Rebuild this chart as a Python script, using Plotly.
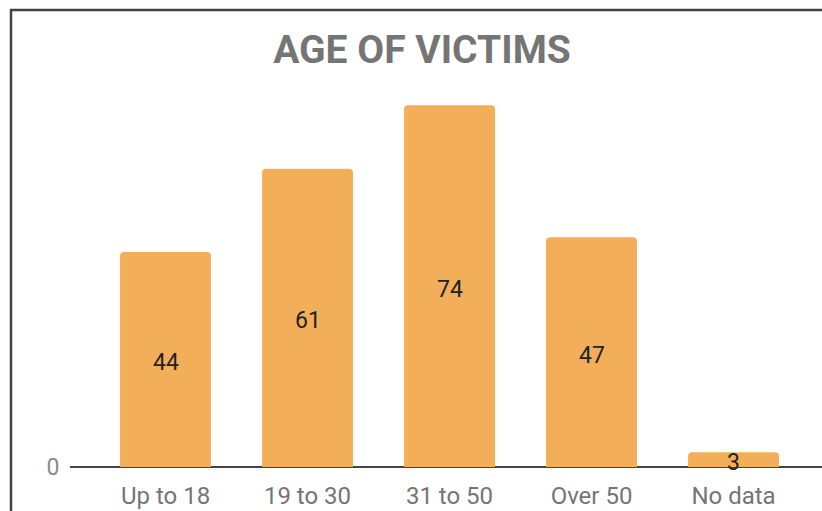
import plotly.graph_objects as go

categories = ["Up to 18", "19 to 30", "31 to 50", "Over 50", "No data"]
values = [44, 61, 74, 47, 3]
title_text = "AGE OF VICTIMS"
y_tick_vals = [0]
y_tick_text = ["0"]

W, H = 822, 511
L, R, T, B = 70, 0, 76, 44

fig = go.Figure()
fig.add_trace(
    go.Bar(
        x=categories,
        y=values,
        width=0.64,
        marker=dict(color="#F2AE59", line=dict(width=0), cornerradius=4),
        hoverinfo="skip",
    )
)

# value labels centred in each bar (not shrunk for the short bar)
annotations = [
    dict(
        x=c, y=v / 2, xref="x", yref="y",
        text=str(v), showarrow=False,
        xanchor="center", yanchor="middle", yshift=-3,
        font=dict(family="Roboto", size=23, color="#222222"),
    )
    for c, v in zip(categories, values)
]

fig.update_layout(
    width=W,
    height=H,
    margin=dict(l=L, r=R, t=T, b=B, pad=0),
    paper_bgcolor="white",
    plot_bgcolor="white",
    showlegend=False,
    font=dict(family="Roboto"),
    annotations=annotations,
    title=dict(
        text="<b>" + title_text + "</b>",
        x=422 / W,
        xref="container",
        xanchor="center",
        y=1 - 49 / H,
        yref="container",
        yanchor="middle",
        font=dict(family="Roboto", size=39, color="#757575"),
    ),
    xaxis=dict(
        type="category",
        range=[-0.6725, 4.623],
        showgrid=False,
        zeroline=False,
        showline=False,
        ticks="outside",
        ticklen=7,
        tickcolor="rgba(0,0,0,0)",
        tickfont=dict(family="Roboto", size=24, color="#757575"),
        fixedrange=True,
    ),
    yaxis=dict(
        range=[0, 80],
        showgrid=False,
        zeroline=True,
        zerolinecolor="#444444",
        zerolinewidth=1.5,
        showline=False,
        tickvals=y_tick_vals,
        ticktext=y_tick_text,
        ticks="outside",
        ticklen=5,
        tickcolor="rgba(0,0,0,0)",
        tickfont=dict(family="Roboto", size=23, color="#8a8a8a"),
        fixedrange=True,
    ),
)

# outer frame (left and top edges), positions given in window pixels
pw = W - L - R
ph = H - T - B
def px_x(x):
    return (x - L) / pw
def px_y(y):
    return (H - B - y) / ph

fig.add_shape(type="line", xref="paper", yref="paper",
              x0=px_x(11), x1=px_x(11), y0=px_y(9), y1=px_y(530),
              line=dict(color="#444444", width=2.5), layer="above")
fig.add_shape(type="line", xref="paper", yref="paper",
              x0=px_x(10), x1=px_x(840), y0=px_y(10), y1=px_y(10),
              line=dict(color="#444444", width=2.5), layer="above")

fig.write_html(
    "out.html",
    config={"displayModeBar": False},
    post_script="document.body.style.margin='0';document.body.style.overflow='hidden';",
)
